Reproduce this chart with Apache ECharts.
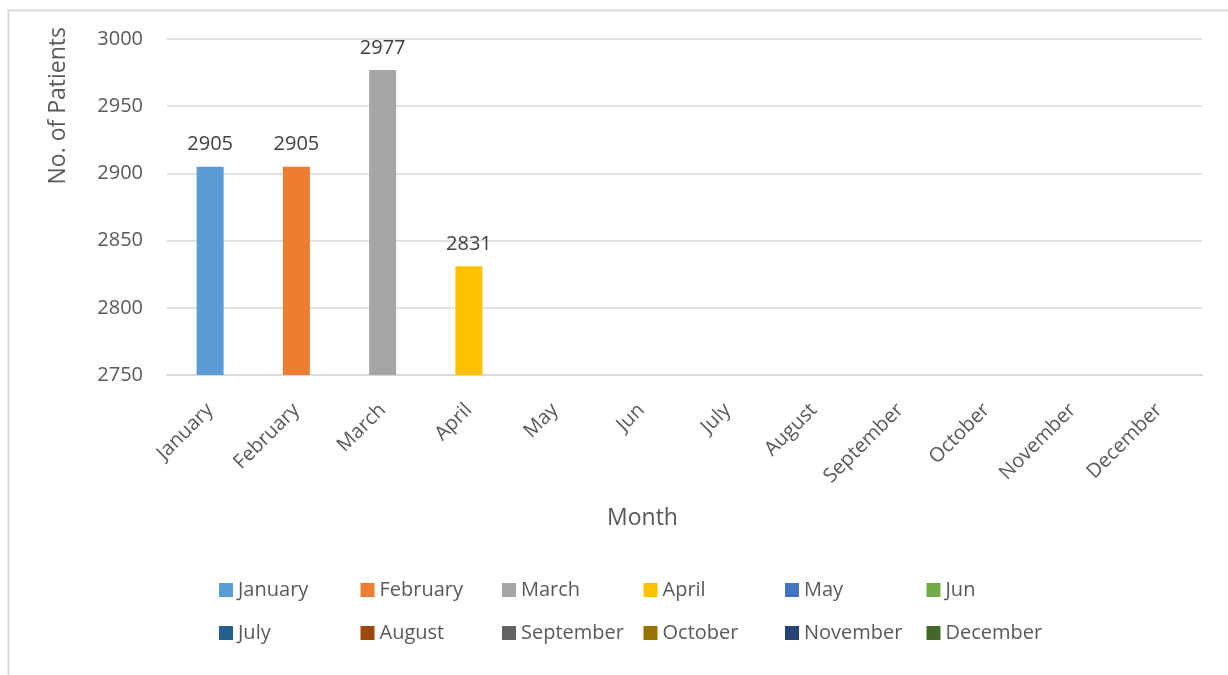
<!DOCTYPE html>
<html>
<head>
<meta charset="utf-8">
<script src="https://cdn.jsdelivr.net/npm/echarts@6/dist/echarts.min.js"></script>
<style>html,body{margin:0;padding:0;background:#fff;}#c{width:1228px;height:675px;}</style>
</head>
<body>
<div id="c"></div>
<script>
const months = ['January','February','March','April','May','Jun','July','August','September','October','November','December'];
const values = [2905, 2905, 2977, 2831, null, null, null, null, null, null, null, null];
const colors = ['#5b9bd5','#ed7d31','#a5a5a5','#ffc000','#4472c4','#70ad47','#255e91','#9e480e','#636363','#997300','#264478','#43682b'];
const yTicks = [2750, 2800, 2850, 2900, 2950, 3000];

const FONT = 'Open Sans';
const chart = echarts.init(document.getElementById('c'), null, {renderer:'canvas'});

const series = months.map((m, i) => ({
  name: m,
  type: 'bar',
  barWidth: 27,
  barGap: '-100%',
  itemStyle: {color: colors[i]},
  label: {show: true, position: 'top', distance: 12, color: '#404040', fontSize: 20, fontFamily: FONT},
  data: months.map((_, j) => j === i ? values[i] : null)
}));

const legends = months.map((m, i) => ({
  data: [m],
  left: 219 + (i % 6) * 141.5,
  top: i < 6 ? 580 : 623,
  padding: 0,
  itemWidth: 14, itemHeight: 14, itemGap: 0,
  icon: 'rect',
  selectedMode: false,
  textStyle: {color: '#595959', fontSize: 20, fontFamily: FONT}
}));

chart.setOption({
  animation: false,
  color: colors,
  grid: {left: 167, right: 26, top: 39, bottom: 300, containLabel: false},
  graphic: [
    {type: 'rect', shape: {x: 8.5, y: 10.5, width: 1230, height: 700}, style: {fill: 'none', stroke: '#d9d9d9', lineWidth: 2}},
    {type: 'text', left: 47, top: 27, rotation: Math.PI/2, style: {text: 'No. of Patients', fill: '#595959', fontSize: 23, fontFamily: FONT}},
    {type: 'text', left: 607, top: 507, style: {text: 'Month', fill: '#595959', fontSize: 23, fontFamily: FONT}}
  ],
  legend: legends,
  xAxis: {
    type: 'category',
    data: months,
    axisLine: {lineStyle: {color: '#d9d9d9', width: 2}},
    axisTick: {show: false},
    axisLabel: {rotate: 45, color: '#595959', fontSize: 20, fontFamily: FONT, margin: 32, interval: 0}
  },
  yAxis: {
    type: 'value',
    min: yTicks[0], max: yTicks[yTicks.length-1], interval: 50,
    axisLine: {show: false},
    axisTick: {show: false},
    splitLine: {lineStyle: {color: '#d9d9d9', width: 1.5}},
    axisLabel: {color: '#595959', fontSize: 20, fontFamily: FONT, margin: 24, formatter: v => String(v)}
  },
  series: series
});
</script>
</body>
</html>
